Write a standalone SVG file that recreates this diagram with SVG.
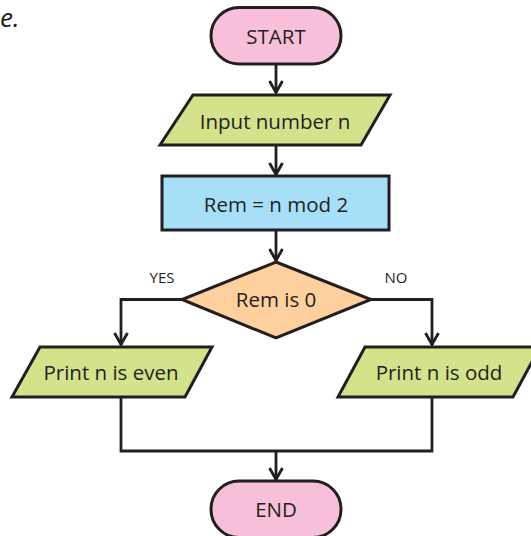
<svg xmlns="http://www.w3.org/2000/svg" width="531" height="536" viewBox="0 0 531 536">
  <style>
    .shape { stroke: #231f20; stroke-width: 3; stroke-linejoin: miter; }
    .term { fill: #f7bfd9; }
    .io { fill: #d3e28b; }
    .proc { fill: #a8dff8; }
    .dec { fill: #fdd09d; }
    .lbl { font-family: "Open Sans", "Noto Sans", sans-serif; font-size: 20.5px; fill: #231f20; text-anchor: middle; }
    .small { font-family: "Open Sans", "Noto Sans", sans-serif; font-size: 15px; fill: #231f20; text-anchor: middle; }
    .wire { fill: none; stroke: #231f20; stroke-width: 2.8; }
  </style>
  <defs>
    <marker id="chev" viewBox="0 0 14 16" refX="13" refY="8" markerWidth="14" markerHeight="16" markerUnits="userSpaceOnUse" orient="auto">
      <path d="M1,1.5 L12.5,8 L1,14.5" fill="none" stroke="#231f20" stroke-width="2.8"/>
    </marker>
  </defs>
  <rect width="531" height="536" fill="#ffffff"/>

  <text x="0" y="27" font-family="Open Sans, Noto Sans, sans-serif" font-size="26" font-style="italic" fill="#231f20">e.</text>

  <g id="connectors">
    <path class="wire" d="M276,64 V93" marker-end="url(#chev)"/>
    <path class="wire" d="M276,145 V175" marker-end="url(#chev)"/>
    <path class="wire" d="M276,230 V261" marker-end="url(#chev)"/>
    <path class="wire" d="M182,299.5 H121 V345" marker-end="url(#chev)"/>
    <path class="wire" d="M371,299.5 H432 V345" marker-end="url(#chev)"/>
    <path class="wire" d="M121,397 V451 H432 V397"/>
    <path class="wire" d="M276,451 V480" marker-end="url(#chev)"/>
    <text class="small" x="162" y="283">YES</text>
    <text class="small" x="396" y="283">NO</text>
  </g>

  <g id="start">
    <rect class="shape term" x="211" y="7.5" width="130" height="56.5" rx="28"/>
    <text class="lbl" x="276" y="44">START</text>
  </g>

  <g id="input">
    <polygon class="shape io" points="193,95 390,95 361,145 160,145"/>
    <text class="lbl" x="275" y="129">Input number n</text>
  </g>

  <g id="rem">
    <rect class="shape proc" x="162" y="176" width="227" height="54"/>
    <text class="lbl" x="276" y="212">Rem = n mod 2</text>
  </g>

  <g id="decision">
    <polygon class="shape dec" points="276,262 371,299.5 276,338 182,299.5"/>
    <text class="lbl" x="276" y="307">Rem is 0</text>
  </g>

  <g id="even">
    <polygon class="shape io" points="40,347 212,347 185,397 12,397"/>
    <text class="lbl" x="111" y="380">Print n is even</text>
  </g>

  <g id="odd">
    <polygon class="shape io" points="365,347 540,347 513,397 338,397"/>
    <text class="lbl" x="439" y="380">Print n is odd</text>
  </g>

  <g id="end">
    <rect class="shape term" x="211" y="481" width="130" height="56.5" rx="28"/>
    <text class="lbl" x="276" y="517">END</text>
  </g>
</svg>
